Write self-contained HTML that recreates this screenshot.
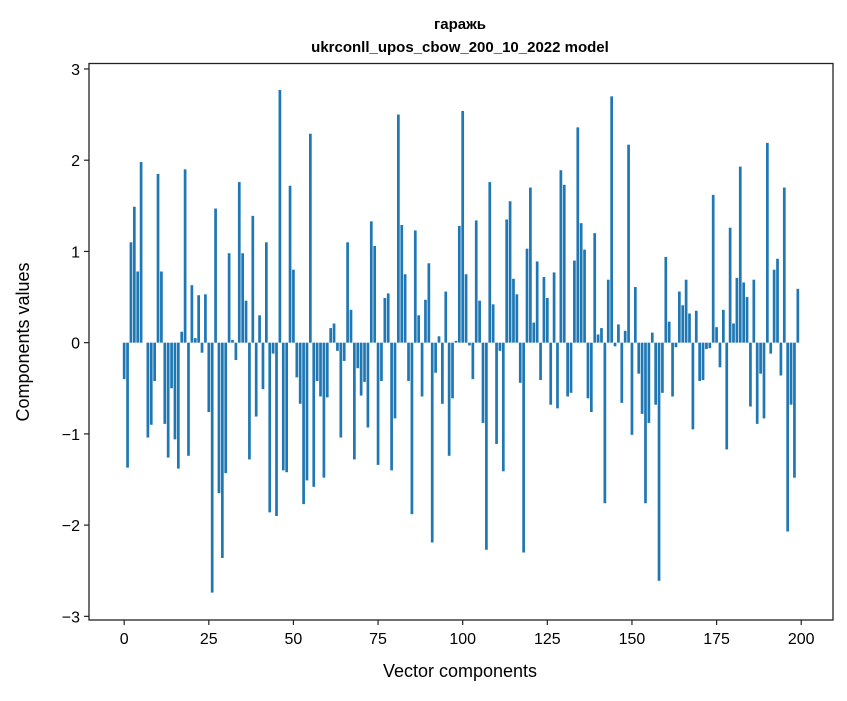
<!DOCTYPE html>
<html><head><meta charset="utf-8"><style>
body{margin:0;background:#fff;}
svg text{font-family:"Liberation Sans","DejaVu Sans",sans-serif;fill:#000;}
</style></head><body>
<svg id="chart" width="847" height="696" xmlns="http://www.w3.org/2000/svg">
<text x="460" y="29" font-size="15" font-weight="bold" text-anchor="middle">гаражь</text>
<text x="460" y="52" font-size="15" font-weight="bold" text-anchor="middle">ukrconll_upos_cbow_200_10_2022 model</text>
<g id="bars"></g>
<g id="axes"></g>
<text x="460" y="677" font-size="18" text-anchor="middle">Vector components</text>
<text transform="translate(29,342) rotate(-90)" font-size="18" text-anchor="middle">Components values</text>
</svg>
<script>
const values = [-0.40,-1.37,1.10,1.49,0.78,1.98,0.0,-1.04,-0.90,-0.42,1.85,0.78,-0.89,-1.26,-0.50,-1.06,-1.38,0.12,1.90,-1.24,
0.63,0.05,0.52,-0.11,0.53,-0.76,-2.74,1.47,-1.65,-2.36,-1.43,0.98,0.03,-0.19,1.76,0.98,0.46,-1.28,1.39,-0.81,
0.30,-0.51,1.10,-1.86,-0.12,-1.90,2.77,-1.40,-1.42,1.72,0.80,-0.38,-0.67,-1.77,-1.51,2.29,-1.58,-0.42,-0.59,-1.48,
-0.60,0.16,0.21,-0.09,-1.04,-0.20,1.10,0.36,-1.28,-0.28,-0.58,-0.43,-0.93,1.33,1.06,-1.34,-0.42,0.49,0.54,-1.40,
-0.83,2.50,1.29,0.75,-0.42,-1.88,1.23,0.30,-0.59,0.47,0.87,-2.19,-0.33,0.07,-0.67,0.56,-1.24,-0.61,0.02,1.28,
2.54,0.75,-0.03,-0.40,1.34,0.46,-0.88,-2.27,1.76,0.42,-1.11,-0.09,-1.41,1.35,1.55,0.70,0.53,-0.44,-2.30,1.03,
1.70,0.22,0.89,-0.41,0.72,0.49,-0.68,0.77,-0.72,1.89,1.73,-0.59,-0.55,0.90,2.36,1.31,1.02,-0.61,-0.76,1.20,
0.09,0.16,-1.76,0.69,2.70,-0.04,0.20,-0.66,0.13,2.17,-1.01,0.61,-0.34,-0.78,-1.76,-0.88,0.11,-0.68,-2.61,-0.55,
0.94,0.23,-0.59,-0.05,0.56,0.41,0.69,0.32,-0.95,0.35,-0.42,-0.41,-0.07,-0.06,1.62,0.17,-0.27,0.36,-1.17,1.26,
0.21,0.71,1.93,0.66,0.50,-0.70,0.69,-0.89,-0.34,-0.83,2.19,-0.12,0.80,0.92,-0.36,1.70,-2.07,-0.68,-1.48,0.59];
const xTicks = [0,25,50,75,100,125,150,175,200];
const yTicks = [-3,-2,-1,0,1,2,3];

const L=89,R=833,T=63.5,B=620;
const xmin=-10.39,xmax=209.39,ymin=-3.04,ymax=3.06;
function xs(v){return L+(v-xmin)/(xmax-xmin)*(R-L);}
function ys(v){return B-(v-ymin)/(ymax-ymin)*(B-T);}
const NS="http://www.w3.org/2000/svg";
const gb=document.getElementById('bars');
values.forEach((v,i)=>{
  const r=document.createElementNS(NS,'rect');
  const x0=xs(i-0.4),x1=xs(i+0.4);
  const y0=ys(Math.max(v,0)),y1=ys(Math.min(v,0));
  r.setAttribute('x',x0);r.setAttribute('width',x1-x0);
  r.setAttribute('y',y0);r.setAttribute('height',Math.max(y1-y0,0.01));
  r.setAttribute('fill','#1f77b4');
  
  
  gb.appendChild(r);
});
const ga=document.getElementById('axes');
const frame=document.createElementNS(NS,'rect');
frame.setAttribute('x',L);frame.setAttribute('y',T);frame.setAttribute('width',R-L);frame.setAttribute('height',B-T);
frame.setAttribute('fill','none');frame.setAttribute('stroke','#222');frame.setAttribute('stroke-width','1.3');


ga.appendChild(frame);
xTicks.forEach(t=>{
  const x=xs(t);
  const l=document.createElementNS(NS,'line');
  l.setAttribute('x1',x);l.setAttribute('x2',x);l.setAttribute('y1',B);l.setAttribute('y2',B+5);
  l.setAttribute('stroke','#222');l.setAttribute('stroke-width','1.2');
  
  
  ga.appendChild(l);
  const tx=document.createElementNS(NS,'text');
  tx.setAttribute('x',x);tx.setAttribute('y',B+24);tx.setAttribute('font-size','16');tx.setAttribute('text-anchor','middle');
  tx.textContent=String(t);
  
  
  ga.appendChild(tx);
});
yTicks.forEach(t=>{
  const y=ys(t);
  const l=document.createElementNS(NS,'line');
  l.setAttribute('x1',L-5);l.setAttribute('x2',L);l.setAttribute('y1',y);l.setAttribute('y2',y);
  l.setAttribute('stroke','#222');l.setAttribute('stroke-width','1.2');
  
  
  ga.appendChild(l);
  const tx=document.createElementNS(NS,'text');
  tx.setAttribute('x',L-9);tx.setAttribute('y',y+6);tx.setAttribute('font-size','16');tx.setAttribute('text-anchor','end');
  tx.textContent=(t<0?'\u2212':'')+Math.abs(t);
  
  
  ga.appendChild(tx);
});
</script>
</body></html>
